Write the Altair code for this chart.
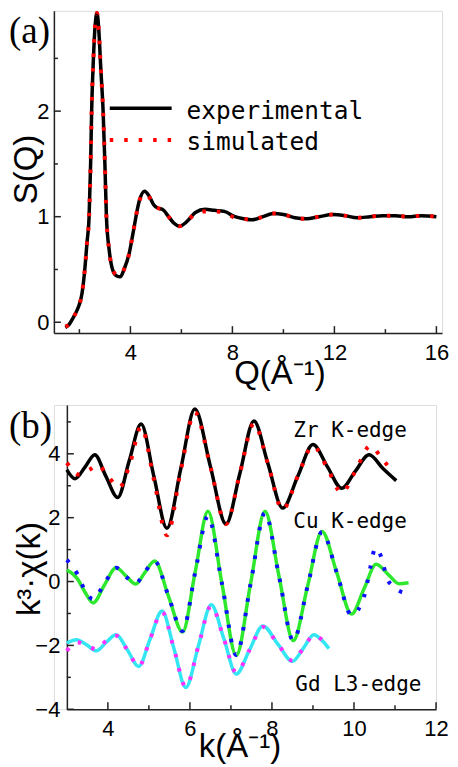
import altair as alt
import pandas as pd

# ---------------- panel (a): S(Q) ----------------
q_exp = [1.45, 1.6, 1.75, 1.9, 2.0, 2.1, 2.2, 2.3, 2.38, 2.44, 2.48, 2.55, 2.62, 2.69, 2.76,
         2.84, 2.93, 3.0, 3.06, 3.17, 3.3, 3.45, 3.6, 3.75, 3.96, 4.1, 4.35, 4.55, 4.75, 4.92,
         5.09, 5.25, 5.5, 5.7, 5.93, 6.2, 6.55, 6.93, 7.3, 7.68, 8.1, 8.45, 8.76, 9.2, 9.6,
         10.0, 10.45, 10.9, 11.4, 11.93, 12.4, 12.9, 13.4, 13.9, 14.4, 14.9, 15.4, 16.0]
s_exp = [-0.05, -0.02, 0.04, 0.11, 0.17, 0.27, 0.47, 0.76, 1.0, 1.5, 2.0, 2.5, 2.82, 2.93, 2.77,
         2.4, 2.0, 1.5, 1.0, 0.68, 0.5, 0.44, 0.43, 0.5, 0.66, 0.84, 1.15, 1.24, 1.19, 1.11,
         1.08, 1.07, 1.0, 0.94, 0.91, 0.95, 1.04, 1.07, 1.06, 1.05, 1.0, 0.98, 0.97, 1.0, 1.03,
         1.02, 0.99, 0.98, 1.0, 1.02, 1.01, 0.99, 1.0, 1.01, 1.01, 1.0, 1.01, 1.0]
q_sim = q_exp
s_sim = [-0.04, -0.02, 0.04, 0.11, 0.17, 0.27, 0.47, 0.76, 1.0, 1.5, 2.0, 2.5, 2.82, 2.93, 2.77,
         2.4, 2.0, 1.5, 1.0, 0.68, 0.5, 0.45, 0.44, 0.5, 0.66, 0.84, 1.15, 1.22, 1.18, 1.1,
         1.08, 1.07, 1.0, 0.94, 0.91, 0.95, 1.03, 1.05, 1.05, 1.04, 0.99, 0.98, 0.97, 1.0, 1.03,
         1.02, 0.99, 0.98, 1.0, 1.02, 1.01, 0.99, 1.0, 1.01, 1.01, 1.0, 1.01, 1.0]
qa_major = [4, 8, 12, 16]
qa_minor = [2, 6, 10, 14]
sa_major = [0, 1, 2]
sa_minor = [0.5, 1.5, 2.5]
legend_a = ["experimental", "simulated"]

# ---------------- panel (b): k^3 chi(k) ----------------
k_zr = [3.0, 3.2, 3.45, 3.68, 3.95, 4.24, 4.52, 4.81, 5.12, 5.44, 5.78, 6.12, 6.5, 6.88, 7.22,
        7.56, 7.9, 8.26, 8.63, 9.0, 9.35, 9.7, 10.03, 10.37, 10.7, 11.03]
zr_exp = [3.5, 3.22, 3.6, 3.97, 3.3, 2.63, 3.78, 4.93, 3.3, 1.67, 3.55, 5.4, 3.6, 1.8, 3.4,
          5.03, 3.7, 2.3, 3.3, 4.29, 3.6, 2.92, 3.45, 3.97, 3.55, 3.16]
k_zr_sim = [3.0, 3.3, 3.55, 3.75, 4.0, 4.28, 4.55, 4.81, 5.12, 5.44, 5.78, 6.12, 6.5, 6.88, 7.22,
            7.56, 7.9, 8.26, 8.63, 9.0, 9.35, 9.7, 10.03, 10.4, 10.68, 10.95]
zr_sim = [3.72, 3.35, 3.5, 3.65, 3.3, 2.95, 3.75, 4.85, 3.2, 1.45, 3.5, 5.3, 3.6, 1.8, 3.4,
          4.95, 3.7, 2.25, 3.3, 4.25, 3.55, 2.78, 3.45, 4.25, 3.85, 3.42]

k_cu = [3.0, 3.25, 3.45, 3.64, 3.92, 4.2, 4.44, 4.68, 4.9, 5.14, 5.48, 5.82, 6.13, 6.44, 6.78,
        7.13, 7.48, 7.83, 8.17, 8.52, 8.87, 9.22, 9.58, 9.94, 10.24, 10.54, 10.85, 11.1, 11.33]
cu_exp = [0.36, 0.1, -0.35, -0.67, -0.1, 0.43, 0.18, -0.08, 0.28, 0.64, -0.47, -1.58, 0.31, 2.2,
          -0.06, -2.32, -0.06, 2.2, 0.18, -1.85, -0.14, 1.57, 0.28, -1.02, -0.24, 0.54, 0.2,
          -0.07, -0.04]
k_cu_sim = [3.0, 3.25, 3.45, 3.64, 3.92, 4.2, 4.44, 4.68, 4.9, 5.14, 5.48, 5.82, 6.13, 6.44, 6.78,
            7.13, 7.48, 7.83, 8.17, 8.52, 8.87, 9.22, 9.58, 9.94, 10.25, 10.4, 10.52, 10.67, 10.8,
            11.0, 11.3]
cu_sim = [0.68, 0.25, -0.3, -0.55, -0.05, 0.43, 0.15, -0.05, 0.3, 0.64, -0.47, -1.55, 0.3, 2.05,
          -0.06, -2.3, -0.06, 2.15, 0.18, -1.85, -0.14, 1.55, 0.28, -1.05, -0.45, 0.45, 1.05,
          0.75, 0.12, -0.2, -0.38]

k_gd = [3.0, 3.24, 3.48, 3.72, 3.96, 4.2, 4.48, 4.75, 5.03, 5.32, 5.61, 5.9, 6.21, 6.52, 6.83,
        7.13, 7.45, 7.78, 8.14, 8.5, 8.76, 9.02, 9.2, 9.39]
gd_exp = [-1.92, -1.82, -1.98, -2.17, -1.9, -1.67, -2.15, -2.66, -1.8, -0.92, -2.1, -3.32, -2.0,
          -0.73, -1.8, -2.9, -2.15, -1.39, -1.95, -2.5, -2.1, -1.67, -1.82, -2.1]
k_gd_sim = [3.0, 3.24, 3.48, 3.72, 3.96, 4.2, 4.48, 4.75, 5.03, 5.32, 5.61, 5.9, 6.21, 6.52, 6.83,
            7.13, 7.45, 7.78, 8.14, 8.5, 8.76, 9.02, 9.2, 9.35]
gd_sim = [-2.17, -1.9, -2.0, -2.12, -1.85, -1.7, -2.15, -2.66, -1.8, -0.95, -2.1, -3.3, -2.0,
          -0.76, -1.8, -2.85, -2.15, -1.42, -1.95, -2.48, -2.1, -1.68, -1.8, -1.98]
kb_major = [4, 6, 8, 10, 12]
kb_minor = [5, 7, 9, 11]
vb_major = [-4, -2, 0, 2, 4]
vb_minor = [-3, -1, 1, 3, 5]
edge_labels = ["Zr K-edge", "Cu K-edge", "Gd L3-edge"]

FONT = "Liberation Sans"
MONO = "DejaVu Sans Mono"
AX = "#222222"
DOT = [3.5, 11]


def ticks(values, field, enc, along_x, length, height, x0=0):
    df = pd.DataFrame({field: values})
    if along_x:
        return alt.Chart(df).mark_rule(color=AX, strokeWidth=1.5).encode(
            x=enc, y=alt.value(height), y2=alt.value(height - length))
    return alt.Chart(df).mark_rule(color=AX, strokeWidth=1.5).encode(
        y=enc, x=alt.value(x0), x2=alt.value(x0 + length))


def axis(values, title, pad, tx, ty, angle=0, offset=0):
    kw = dict(values=values, ticks=False, tickSize=0, grid=False, domainColor=AX,
              domainWidth=1.5, labelFont=FONT, labelFontSize=22, labelColor="black",
              labelPadding=pad, labelFlush=False, title=title, titleFont=FONT,
              titleFontSize=33, titleFontWeight="normal", titleColor="black",
              titleX=tx, titleY=ty, titleAlign="center", titleBaseline="alphabetic")
    if angle:
        kw["titleAngle"] = angle
    if offset:
        kw["offset"] = offset
    return alt.Axis(**kw)


def label(text, x, y, font, size):
    return alt.Chart(pd.DataFrame({"t": [text]})).mark_text(
        font=font, fontSize=size, align="left", baseline="alphabetic", color="black"
    ).encode(text="t:N", x=alt.value(x), y=alt.value(y))


# ---- panel (a)
W_A, H_A = 389, 323
xa = alt.X("Q:Q", scale=alt.Scale(domain=[1, 16.22], nice=False, zero=False),
           axis=axis(qa_major, "Q(Å⁻¹)", 9, 226, 50))
ya = alt.Y("S:Q", scale=alt.Scale(domain=[-0.103, 2.95], nice=False, zero=False),
           axis=axis(sa_major, "S(Q)", 5, -17, 158.5, 270))

exp_line = alt.Chart(pd.DataFrame({"Q": q_exp, "S": s_exp})).mark_line(
    color="black", strokeWidth=3.5, interpolate="monotone").encode(x=xa, y=ya)
sim_line = alt.Chart(pd.DataFrame({"Q": q_sim, "S": s_sim})).mark_line(
    color="#ff0000", strokeWidth=4, strokeDash=DOT, interpolate="monotone").encode(x=xa, y=ya)

leg_exp = alt.Chart(pd.DataFrame({"t": [legend_a[0]]})).mark_rule(
    color="black", strokeWidth=3.5).encode(x=alt.value(56), x2=alt.value(118), y=alt.value(97.5))
leg_sim = alt.Chart(pd.DataFrame({"t": [legend_a[1]]})).mark_rule(
    color="#ff0000", strokeWidth=4, strokeDash=DOT).encode(
    x=alt.value(56), x2=alt.value(118), y=alt.value(129.5))

panel_a = alt.layer(
    exp_line, sim_line,
    ticks(qa_major, "Q", xa, True, 7, H_A), ticks(qa_minor, "Q", xa, True, 4, H_A),
    ticks(sa_major, "S", ya, False, 7, H_A), ticks(sa_minor, "S", ya, False, 4, H_A),
    leg_exp, leg_sim,
    label(legend_a[0], 133, 108.5, MONO, 24.5),
    label(legend_a[1], 133, 139.5, MONO, 24.5),
    label("(a)", -45, 32, "Liberation Serif", 37),
).properties(width=W_A, height=H_A)

# ---- panel (b): its axes start 13px to the right of panel (a)'s
INSET = 13
W_B, H_B = 370, 305
xb = alt.X("k:Q", scale=alt.Scale(domain=[3, 12], range=[INSET, INSET + W_B], nice=False, zero=False),
           axis=axis(kb_major, "k(Å⁻¹)", 9, 186, 47))
yb = alt.Y("v:Q", scale=alt.Scale(domain=[-4, 5.53], nice=False, zero=False),
           axis=axis(vb_major, "k³·χ(k)", 7, -27, 164, 270, offset=-INSET))


def curve(ks, vs, color, dotted):
    df = pd.DataFrame({"k": ks, "v": vs})
    if dotted:
        m = alt.Chart(df).mark_line(color=color, strokeWidth=4, strokeDash=DOT,
                                    interpolate="monotone")
    else:
        m = alt.Chart(df).mark_line(color=color, strokeWidth=3.5, interpolate="monotone")
    return m.encode(x=xb, y=yb)


panel_b = alt.layer(
    curve(k_zr, zr_exp, "black", False), curve(k_zr_sim, zr_sim, "#ff0000", True),
    curve(k_cu, cu_exp, "#2ee82e", False), curve(k_cu_sim, cu_sim, "#1010ff", True),
    curve(k_gd, gd_exp, "#33e6f2", False), curve(k_gd_sim, gd_sim, "#ff30ff", True),
    ticks(kb_major, "k", xb, True, 7, H_B), ticks(kb_minor, "k", xb, True, 4, H_B),
    ticks(vb_major, "v", yb, False, 7, H_B, INSET), ticks(vb_minor, "v", yb, False, 4, H_B, INSET),
    label(edge_labels[0], 240, 32, MONO, 21),
    label(edge_labels[1], 240, 123, MONO, 21),
    label(edge_labels[2], 242, 287, MONO, 21),
    label("(b)", -45, 33, "Liberation Serif", 37),
).properties(width=INSET + W_B, height=H_B)

chart = alt.vconcat(panel_a, panel_b, spacing=10).properties(
    padding={"left": 0, "top": -5, "right": 0, "bottom": 0}
).configure_view(strokeWidth=0).configure(background="white")

chart.save("out.html", embed_options={"renderer": "svg", "actions": False})
